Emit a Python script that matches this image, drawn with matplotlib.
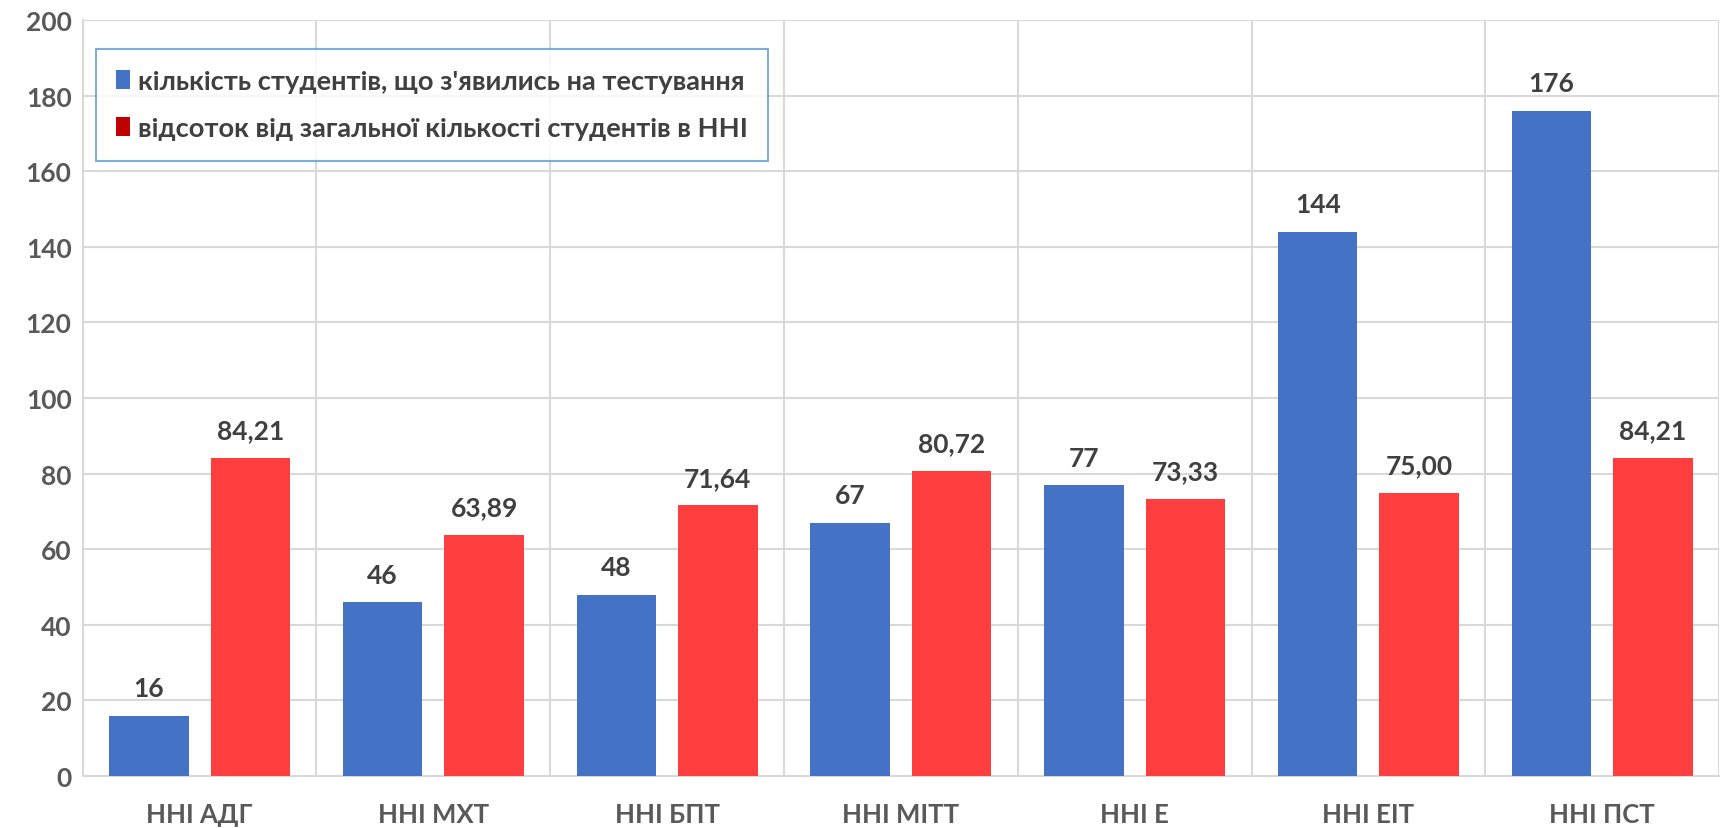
import matplotlib
matplotlib.use("Agg")
import matplotlib.pyplot as plt
from matplotlib.patches import Patch
import numpy as np

categories = ["ННІ АДГ", "ННІ МХТ", "ННІ БПТ", "ННІ МІТТ", "ННІ Е", "ННІ ЕІТ", "ННІ ПСТ"]
students = [16, 46, 48, 67, 77, 144, 176]
percent = [84.21, 63.89, 71.64, 80.72, 73.33, 75.00, 84.21]
yticks = list(range(0, 201, 20))
series_names = ["кількість студентів, що з'явились на тестування",
                "відсоток від загальної кількості студентів в ННІ"]

plt.rcParams['font.family'] = ['Lato', 'DejaVu Sans']

fig = plt.figure(figsize=(17.23, 8.29), dpi=100)
ax = fig.add_axes([0.048, 0.0627, 0.9497, 0.912])

x = np.arange(len(categories))
w = 0.34
off = 0.217
blue = "#4472C4"
red = "#FF3F3F"
b1 = ax.bar(x - off, students, w, color=blue, zorder=3)
b2 = ax.bar(x + off, percent, w, color=red, zorder=3)

for rect, v in zip(b1, students):
    ax.annotate(f"{v}", (rect.get_x() + rect.get_width() / 2, rect.get_height()),
                xytext=(0, 11), textcoords="offset points", ha="center", va="bottom",
                fontsize=19, fontweight="bold", color="#404040")
for rect, v in zip(b2, percent):
    ax.annotate(f"{v:.2f}".replace(".", ","), (rect.get_x() + rect.get_width() / 2, rect.get_height()),
                xytext=(0, 11), textcoords="offset points", ha="center", va="bottom",
                fontsize=19, fontweight="bold", color="#404040")

ax.set_xlim(-0.5, len(categories) - 0.5)
ax.set_ylim(0, 200)
ax.set_yticks(yticks)
ax.set_xticks(x)
ax.set_xticklabels(categories)
ax.set_xticks(np.arange(-0.5, len(categories), 1), minor=True)

ax.grid(axis="y", which="major", color="#D9D9D9", linewidth=1.5, zorder=0)
ax.grid(axis="x", which="minor", color="#D9D9D9", linewidth=1.5, zorder=0)
ax.tick_params(axis="both", which="both", length=0)
ax.tick_params(axis="x", pad=19, labelsize=18.5, labelcolor="#595959")
ax.tick_params(axis="y", pad=8, labelsize=19, labelcolor="#595959")
for lab in ax.get_xticklabels() + ax.get_yticklabels():
    lab.set_fontweight("bold")

for s in ["top", "right"]:
    ax.spines[s].set_visible(False)
for s in ["left", "bottom"]:
    ax.spines[s].set_color("#D9D9D9")
    ax.spines[s].set_linewidth(1.5)

handles = [Patch(facecolor=blue), Patch(facecolor="#C00000")]
leg = ax.legend(handles, series_names, loc="upper left", bbox_to_anchor=(0.008, 0.962),
                prop={"size": 19.6, "weight": "bold"}, frameon=True, fancybox=False,
                edgecolor="#5B9BD5", handlelength=0.5, handleheight=0.7, handletextpad=0.3,
                labelspacing=0.85, borderpad=0.75, borderaxespad=0)
leg.get_frame().set_linewidth(1.5)
for t in leg.get_texts():
    t.set_color("#404040")

fig.savefig("out.png", dpi=100)
